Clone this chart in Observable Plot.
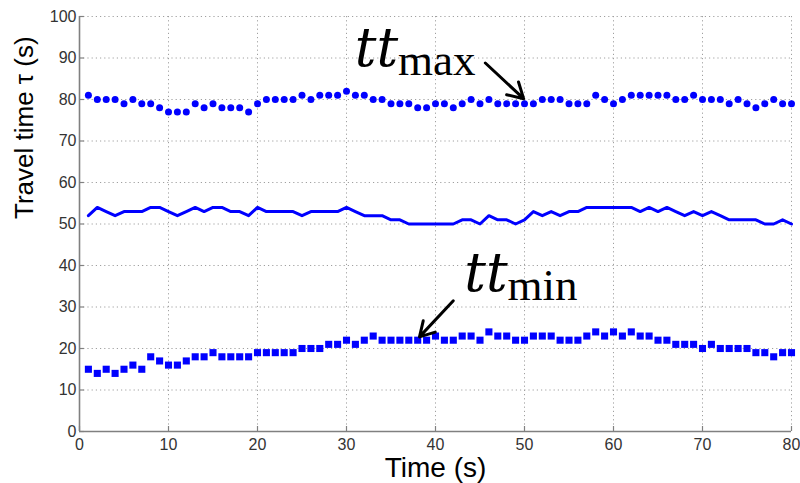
<!DOCTYPE html>
<html>
<head>
<meta charset="utf-8">
<script src="https://cdn.jsdelivr.net/npm/d3@7"></script>
<script src="https://cdn.jsdelivr.net/npm/@observablehq/plot@0.6"></script>
<style>
  html, body { margin: 0; padding: 0; background: #fff; }
  #chart { width: 800px; height: 483px; }
</style>
</head>
<body>
<div id="chart"></div>
<script>
// ---- data ----
const time = [1,2,3,4,5,6,7,8,9,10,11,12,13,14,15,16,17,18,19,20,
  21,22,23,24,25,26,27,28,29,30,31,32,33,34,35,36,37,38,39,40,
  41,42,43,44,45,46,47,48,49,50,51,52,53,54,55,56,57,58,59,60,
  61,62,63,64,65,66,67,68,69,70,71,72,73,74,75,76,77,78,79,80];

const ttMax = [81,80,80,80,79,80,79,79,78,77,77,77,79,78,79,78,78,78,77,79,80,80,80,80,81,80,81,
  81,81,82,81,81,80,80,79,79,79,78,78,79,79,78,79,80,79,80,79,79,79,79,79,80,80,
  80,79,79,79,81,80,79,80,81,81,81,81,81,80,80,81,80,80,80,79,80,79,78,79,80,79,79];

const ttMean = [52,54,53,52,53,53,53,54,54,53,52,53,54,53,54,54,53,53,52,54,53,53,53,53,52,53,53,
  53,53,54,53,52,52,52,51,51,50,50,50,50,50,50,51,51,50,52,51,51,50,51,53,52,53,
  52,53,53,54,54,54,54,54,54,53,54,53,54,53,52,53,52,53,52,51,51,51,51,50,50,51,50];

const ttMin = [15,14,15,14,15,16,15,18,17,16,16,17,18,18,19,18,18,18,18,19,19,19,19,19,20,20,20,
  21,21,22,21,22,23,22,22,22,22,22,22,23,22,22,23,23,22,24,23,23,22,22,23,23,23,
  22,22,22,23,24,23,24,23,24,23,23,22,22,21,21,21,20,21,20,20,20,20,19,19,18,19,19];

const xTicks = [0,10,20,30,40,50,60,70,80];
const yTicks = [0,10,20,30,40,50,60,70,80,90,100];

// annotation labels (data coordinates)
const labelMain = [{x: 35.8, y: 88.1, s: "tt"}, {x: 48.1, y: 33.9, s: "tt"}];
const labelSub  = [{x: 35.8, y: 86.0, s: "max"}, {x: 48.1, y: 31.8, s: "min"}];
const arrows = [
  {x1: 45.6, y1: 88.8, x2: 49.9, y2: 80.2},
  {x1: 42.0, y1: 31.5, x2: 38.2, y2: 22.8}
];

const rows = time.map((t, i) => ({t, max: ttMax[i], mean: ttMean[i], min: ttMin[i]}));

const blue = "#0000ff";
const axisGray = "#808080";

const chart = Plot.plot({
  width: 800,
  height: 483,
  marginLeft: 79,
  marginRight: 9,
  marginTop: 16,
  marginBottom: 52,
  style: {fontFamily: "'Liberation Sans', Arial, sans-serif", background: "#fff"},
  x: {domain: [0, 80]},
  y: {domain: [0, 100]},
  marks: [
    Plot.gridX(xTicks, {stroke: "#a0a0a0", strokeOpacity: 1, strokeDasharray: "1.2,3"}),
    Plot.gridY(yTicks, {stroke: "#a0a0a0", strokeOpacity: 1, strokeDasharray: "1.2,3"}),
    Plot.ruleX(xTicks, {x: d => d, y1: 0, y2: 1.2, stroke: axisGray, strokeWidth: 1.2}),
    Plot.ruleY(yTicks, {y: d => d, x1: 0, x2: 0.55, stroke: axisGray, strokeWidth: 1.2}),
    Plot.ruleX([0], {stroke: axisGray, strokeWidth: 1.6}),
    Plot.ruleY([0], {stroke: axisGray, strokeWidth: 1.6}),
    Plot.axisX({ticks: xTicks, tickSize: 0, tickPadding: 7, fontSize: 16, label: null, color: "#333", tickFormat: d => String(d)}),
    Plot.axisY({ticks: yTicks, tickSize: 0, tickPadding: 3, fontSize: 16, label: null, color: "#333", tickFormat: d => String(d)}),
    Plot.text(["Time (s)"], {frameAnchor: "bottom", lineAnchor: "bottom", dy: 45, fontSize: 28, fill: "#000"}),
    Plot.text(["Travel time \u03c4 (s)"], {frameAnchor: "left", rotate: -90, dx: -55, dy: -5, fontSize: 26, fill: "#000"}),
    Plot.line(rows, {x: "t", y: "mean", stroke: blue, strokeWidth: 3}),
    Plot.dot(rows, {x: "t", y: "max", r: 3.5, fill: blue, stroke: "none"}),
    Plot.dot(rows, {x: "t", y: "min", r: 4, symbol: "square", fill: blue, stroke: "none"}),
    Plot.arrow(arrows, {x1: "x1", y1: "y1", x2: "x2", y2: "y2", stroke: "#000", strokeWidth: 3, headLength: 12}),
    Plot.text(labelMain, {x: "x", y: "y", text: "s", textAnchor: "end", lineAnchor: "bottom", fontSize: 54, fontStyle: "italic", fontFamily: "'DejaVu Serif', 'Liberation Serif', serif", fontWeight: 300, fill: "#000"}),
    Plot.text(labelSub, {x: "x", y: "y", text: "s", textAnchor: "start", lineAnchor: "bottom", fontSize: 45, fontFamily: "'Liberation Serif', 'DejaVu Serif', serif", fill: "#000"})
  ]
});
document.getElementById("chart").appendChild(chart);
</script>
</body>
</html>
